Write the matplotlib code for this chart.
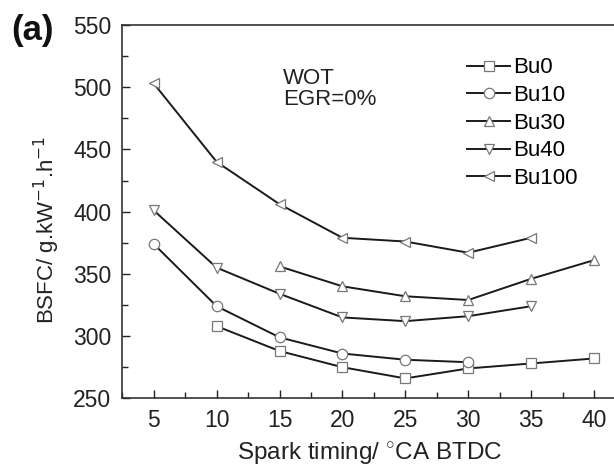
import matplotlib.pyplot as plt
from matplotlib.ticker import MultipleLocator

plt.rcParams['font.family'] = ['Liberation Sans', 'DejaVu Sans']
plt.rcParams['mathtext.fontset'] = 'custom'
plt.rcParams['mathtext.rm'] = 'Liberation Sans'

# BSFC vs spark timing, WOT, no EGR
x_bu0 = [10, 15, 20, 25, 30, 35, 40]
bsfc_bu0 = [308, 288, 275, 266, 274, 278, 282]

x_bu10 = [5, 10, 15, 20, 25, 30]
bsfc_bu10 = [374, 324, 299, 286, 281, 279]

x_bu30 = [15, 20, 25, 30, 35, 40]
bsfc_bu30 = [356, 340, 332, 329, 346, 361]

x_bu40 = [5, 10, 15, 20, 25, 30, 35]
bsfc_bu40 = [401, 355, 334, 315, 312, 316, 324]

x_bu100 = [5, 10, 15, 20, 25, 30, 35]
bsfc_bu100 = [503, 440, 406, 379, 376, 367, 379]

series = [
    ("Bu0", x_bu0, bsfc_bu0, "s"),
    ("Bu10", x_bu10, bsfc_bu10, "o"),
    ("Bu30", x_bu30, bsfc_bu30, "^"),
    ("Bu40", x_bu40, bsfc_bu40, "v"),
    ("Bu100", x_bu100, bsfc_bu100, "<"),
]

fig = plt.figure(figsize=(6.14, 4.68), dpi=100)
ax = fig.add_axes([0.1992, 0.1489, 0.8194, 0.7977])

for name, xs, ys, mk in series:
    ax.plot(xs, ys, color="#1a1a1a", lw=1.4, marker=mk, markersize=7.5,
            markerfacecolor="white", markeredgecolor="#777777",
            markeredgewidth=0.9, label=name)

ax.set_xlim(2.5, 42.5)
ax.set_ylim(250, 550)
ax.xaxis.set_major_locator(MultipleLocator(5))
ax.xaxis.set_minor_locator(MultipleLocator(2.5))
ax.yaxis.set_major_locator(MultipleLocator(50))
ax.yaxis.set_minor_locator(MultipleLocator(25))
ax.tick_params(which="both", direction="in", labelsize=16.5, colors="#222222")
ax.tick_params(which="major", length=6, width=1, pad=8)
ax.tick_params(which="minor", length=4, width=1)
for s in ax.spines.values():
    s.set_color("#333333")
    s.set_linewidth(1.2)

ax.set_xlabel("Spark timing/ $^{\\circ}$CA BTDC", fontsize=17.5, color="#222222")
ax.xaxis.set_label_coords(0.492, -0.113)
ax.set_ylabel("BSFC/ g.kW$^{\\mathsf{-1}}$.h$^{\\mathsf{-1}}$", fontsize=16,
              color="#222222")
ax.yaxis.set_label_coords(-0.12, 0.45)

ax.text(0.32, 0.885, "WOT\nEGR=0%", transform=ax.transAxes, fontsize=16,
        va="top", ha="left", linespacing=1.0, color="#222222")

ax.legend(loc="upper left", bbox_to_anchor=(0.655, 0.955), frameon=False,
          fontsize=16, handlelength=1.9, handletextpad=0.15,
          labelspacing=0.3, borderpad=0.2)

fig.text(0.018, 0.915, "(a)", fontsize=25, fontweight="bold", color="#111111")

fig.savefig("out.png", dpi=100)
